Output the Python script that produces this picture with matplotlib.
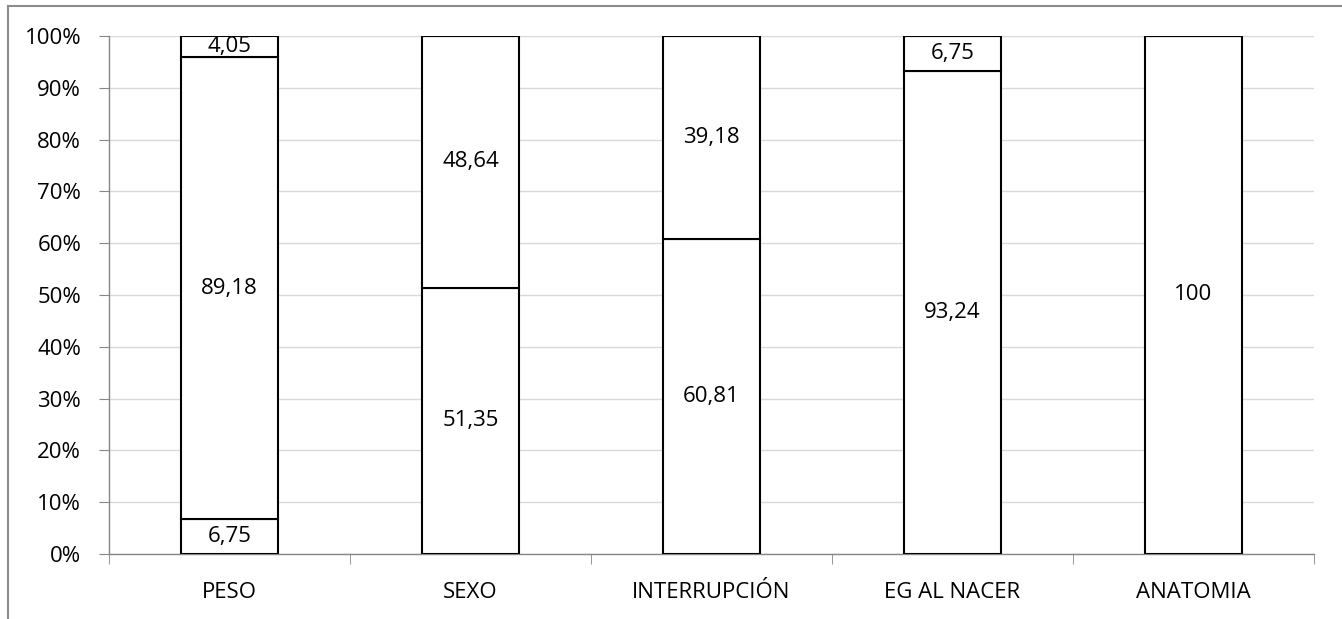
import numpy as np
import matplotlib.pyplot as plt
from matplotlib.lines import Line2D
from matplotlib.ticker import FuncFormatter

plt.rcParams['font.family'] = ['Open Sans', 'DejaVu Sans']

# datos
categorias = ["PESO", "SEXO", "INTERRUPCIÓN", "EG AL NACER", "ANATOMIA"]
serie1 = [6.75, 51.35, 60.81, 93.24, 100]
serie2 = [89.18, 48.64, 39.18, 6.75, 0]
serie3 = [4.05, 0, 0, 0, 0]
series = [serie1, serie2, serie3]

fig = plt.figure(figsize=(13.42, 6.19), dpi=100)
ax = fig.add_axes([109 / 1342, 1 - 554 / 619, (1314 - 109) / 1342, (554 - 36) / 619])

x = np.arange(len(categorias))
totales = np.sum(series, axis=0)
base = np.zeros(len(categorias))
for s in series:
    s = np.array(s, dtype=float)
    pct = s / totales * 100
    ax.bar(x, pct, bottom=base, width=0.4, color='white',
           edgecolor='black', linewidth=1.5, zorder=3)
    for i, v in enumerate(s):
        if v > 0:
            txt = ("%.2f" % v).replace('.', ',') if v != int(v) else str(int(v))
            ax.text(x[i], base[i] + pct[i] / 2, txt, ha='center', va='center',
                    fontsize=16, zorder=4)
    base += pct

ax.set_xlim(-0.5, len(categorias) - 0.5)
ax.set_ylim(0, 100)
ax.set_yticks(np.arange(0, 101, 10))
ax.yaxis.set_major_formatter(FuncFormatter(lambda v, p: "%d%%" % v))
ax.set_xticks(x)
ax.set_xticklabels(categorias)
ax.set_xticks(np.arange(-0.5, len(categorias), 1), minor=True)
ax.tick_params(axis='x', which='major', length=0, pad=20, labelsize=16)
ax.tick_params(axis='x', which='minor', length=7, color='#868686', direction='out')
ax.tick_params(axis='y', length=7, color='#868686', labelsize=16, pad=13)
ax.grid(axis='y', color='#d9d9d9', linewidth=1, zorder=0)
for lado in ['top', 'right']:
    ax.spines[lado].set_visible(False)
for lado in ['left', 'bottom']:
    ax.spines[lado].set_color('#868686')
    ax.spines[lado].set_linewidth(1)

# borde del área del gráfico
fig.add_artist(Line2D([8 / 1342, 1], [1 - 6 / 619, 1 - 6 / 619], color='#8c8c8c', linewidth=1.5))
fig.add_artist(Line2D([8 / 1342, 8 / 1342], [0, 1 - 6 / 619], color='#8c8c8c', linewidth=1.5))

fig.savefig("out.png", dpi=100)
